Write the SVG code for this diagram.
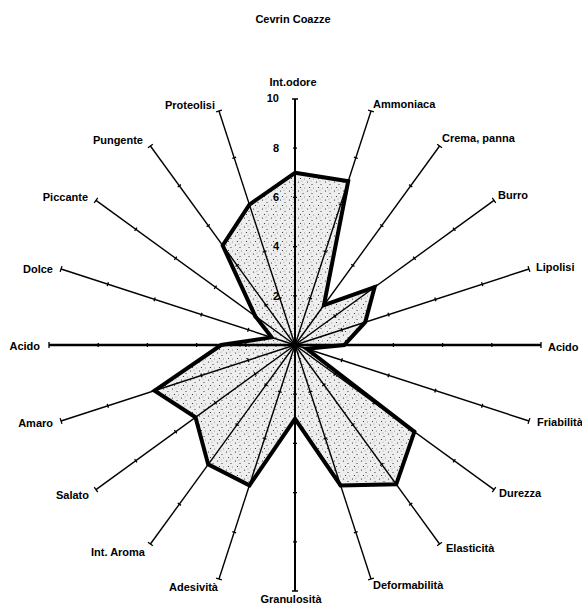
<svg xmlns="http://www.w3.org/2000/svg" xmlns:xlink="http://www.w3.org/1999/xlink" width="582" height="615" viewBox="0 0 582 615">
<style>
  text { font-family: "Liberation Sans", Arial, sans-serif; font-size: 11px; font-weight: bold; fill: #000; }
  .end { text-anchor: end; }
  .mid { text-anchor: middle; }
</style>
<defs>
  <pattern id="stipple" width="9" height="9" patternUnits="userSpaceOnUse">
    <rect width="9" height="9" fill="#eeeeee"/>
    <circle cx="1.5" cy="2" r="0.6" fill="#222"/>
    <circle cx="6" cy="4.5" r="0.55" fill="#222"/>
    <circle cx="3.5" cy="7.5" r="0.6" fill="#222"/>
    <circle cx="7.5" cy="8" r="0.45" fill="#333"/>
    <circle cx="5" cy="1" r="0.4" fill="#444"/>
  </pattern>
  <g id="axis">
    <path d="M0,0 V-246" stroke="#000" stroke-width="1.4" fill="none"/>
    <path d="M-2,-49.2 H2 M-2,-98.4 H2 M-2,-147.6 H2 M-2,-196.8 H2 M-3,-246 H3" stroke="#000" stroke-width="1.3" fill="none"/>
  </g>
</defs>
<rect width="582" height="615" fill="#fff"/>

<text id="title" x="293" y="23" class="mid">Cevrin Coazze</text>

<g id="data">
  <polygon points="295,172.8 348.2,181.2 323.9,305.2 374.6,287.2 365.2,322.2 344.2,345 306.7,348.8 414.4,431.8 396.2,484.3 340.6,485.4 295,418.8 249.4,485.4 208.2,464.4 195.5,417.3 154.6,390.6 221.2,345 271.6,337.4 255.2,316.1 222.7,245.5 249.4,204.6" fill="url(#stipple)" stroke="none"/>
</g>

<g id="connectors">
  <g id="axis-int-odore"><use xlink:href="#axis" transform="translate(295 345) rotate(0)"/><path d="M295,345 V99" stroke="#000" stroke-width="2"/></g>
  <g id="axis-ammoniaca"><use xlink:href="#axis" transform="translate(295 345) rotate(18)"/></g>
  <g id="axis-crema"><use xlink:href="#axis" transform="translate(295 345) rotate(36)"/></g>
  <g id="axis-burro"><use xlink:href="#axis" transform="translate(295 345) rotate(54)"/></g>
  <g id="axis-lipolisi"><use xlink:href="#axis" transform="translate(295 345) rotate(72)"/></g>
  <g id="axis-acido-r"><use xlink:href="#axis" transform="translate(295 345) rotate(90)"/><path d="M295,345 H541" stroke="#000" stroke-width="2.6"/></g>
  <g id="axis-friabilita"><use xlink:href="#axis" transform="translate(295 345) rotate(108)"/></g>
  <g id="axis-durezza"><use xlink:href="#axis" transform="translate(295 345) rotate(126)"/></g>
  <g id="axis-elasticita"><use xlink:href="#axis" transform="translate(295 345) rotate(144)"/></g>
  <g id="axis-deformabilita"><use xlink:href="#axis" transform="translate(295 345) rotate(162)"/></g>
  <g id="axis-granulosita"><use xlink:href="#axis" transform="translate(295 345) rotate(180)"/><path d="M295,345 V591" stroke="#000" stroke-width="2"/></g>
  <g id="axis-adesivita"><use xlink:href="#axis" transform="translate(295 345) rotate(198)"/></g>
  <g id="axis-int-aroma"><use xlink:href="#axis" transform="translate(295 345) rotate(216)"/></g>
  <g id="axis-salato"><use xlink:href="#axis" transform="translate(295 345) rotate(234)"/></g>
  <g id="axis-amaro"><use xlink:href="#axis" transform="translate(295 345) rotate(252)"/></g>
  <g id="axis-acido-l"><use xlink:href="#axis" transform="translate(295 345) rotate(270)"/><path d="M295,345 H49" stroke="#000" stroke-width="2.6"/></g>
  <g id="axis-dolce"><use xlink:href="#axis" transform="translate(295 345) rotate(288)"/></g>
  <g id="axis-piccante"><use xlink:href="#axis" transform="translate(295 345) rotate(306)"/></g>
  <g id="axis-pungente"><use xlink:href="#axis" transform="translate(295 345) rotate(324)"/></g>
  <g id="axis-proteolisi"><use xlink:href="#axis" transform="translate(295 345) rotate(342)"/></g>
</g>

<g id="data-outline">
  <polygon points="295,172.8 348.2,181.2 323.9,305.2 374.6,287.2 365.2,322.2 344.2,345 306.7,348.8 414.4,431.8 396.2,484.3 340.6,485.4 295,418.8 249.4,485.4 208.2,464.4 195.5,417.3 154.6,390.6 221.2,345 271.6,337.4 255.2,316.1 222.7,245.5 249.4,204.6" fill="none" stroke="#000" stroke-width="4" stroke-linejoin="miter"/>
</g>

<g id="scale">
  <text x="279" y="102" class="end">10</text>
  <text x="279" y="152" class="end">8</text>
  <text x="279" y="201" class="end">6</text>
  <text x="279" y="250" class="end">4</text>
  <text x="279" y="300" class="end">2</text>
</g>

<g id="labels">
  <g id="lbl-int-odore"><text x="293" y="86" class="mid">Int.odore</text></g>
  <g id="lbl-ammoniaca"><text x="373" y="108">Ammoniaca</text></g>
  <g id="lbl-crema"><text x="442" y="142">Crema, panna</text></g>
  <g id="lbl-burro"><text x="498" y="199">Burro</text></g>
  <g id="lbl-lipolisi"><text x="536" y="271">Lipolisi</text></g>
  <g id="lbl-acido-r"><text x="548" y="351">Acido</text></g>
  <g id="lbl-friabilita"><text x="537" y="426">Friabilità</text></g>
  <g id="lbl-durezza"><text x="499" y="497">Durezza</text></g>
  <g id="lbl-elasticita"><text x="446" y="552">Elasticità</text></g>
  <g id="lbl-deformabilita"><text x="373" y="589">Deformabilità</text></g>
  <g id="lbl-granulosita"><text x="291" y="603" class="mid">Granulosità</text></g>
  <g id="lbl-adesivita"><text x="218" y="591" class="end">Adesività</text></g>
  <g id="lbl-int-aroma"><text x="145" y="556" class="end">Int. Aroma</text></g>
  <g id="lbl-salato"><text x="89" y="499" class="end">Salato</text></g>
  <g id="lbl-amaro"><text x="53" y="427" class="end">Amaro</text></g>
  <g id="lbl-acido-l"><text x="40" y="350" class="end">Acido</text></g>
  <g id="lbl-dolce"><text x="53" y="273" class="end">Dolce</text></g>
  <g id="lbl-piccante"><text x="88" y="201" class="end">Piccante</text></g>
  <g id="lbl-pungente"><text x="143" y="144" class="end">Pungente</text></g>
  <g id="lbl-proteolisi"><text x="215" y="109" class="end">Proteolisi</text></g>
</g>
</svg>
